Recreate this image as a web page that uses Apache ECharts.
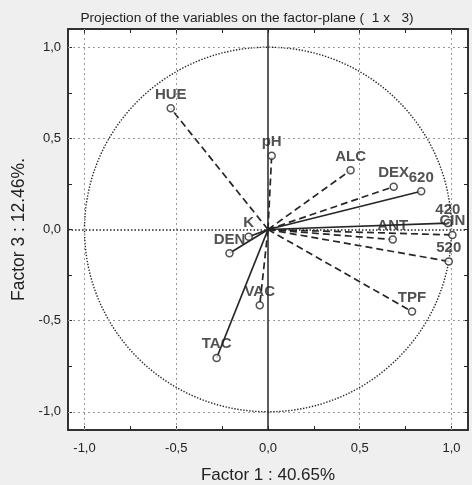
<!DOCTYPE html>
<html>
<head>
<meta charset="utf-8">
<script src="https://cdn.jsdelivr.net/npm/echarts@6/dist/echarts.min.js"></script>
<style>
  html, body { margin: 0; padding: 0; background: #efefef; }
  #chart { width: 472px; height: 485px; }
</style>
</head>
<body>
<div id="chart"></div>
<script>
// Variable loadings on factor 1 (horizontal) and factor 3 (vertical)
const variables = ['HUE', 'pH', 'ALC', 'DEX', '620', '420', 'CIN', 'ANT', '520', 'TPF', 'VAC', 'TAC', 'DEN', 'K'];
const factor1 = [-0.53, 0.02, 0.45, 0.685, 0.835, 0.98, 1.005, 0.68, 0.985, 0.785, -0.045, -0.28, -0.21, -0.105];
const factor3 = [0.665, 0.405, 0.325, 0.235, 0.21, 0.035, -0.03, -0.055, -0.175, -0.45, -0.415, -0.705, -0.13, -0.04];

// Axis tick labels
const axisLabelValues = [-1, -0.5, 0, 0.5, 1];
const axisTickValues = [-1, -0.75, -0.5, -0.25, 0, 0.25, 0.5, 0.75, 1];
const gridValues = [-1, -0.5, 0.5, 1];

// Vectors drawn with a continuous stroke (the rest are dashed)
const solidVectors = ['620', '420', 'TAC', 'DEN', 'K'];

const ink = '#262626';
const fmt = v => v.toFixed(1).replace('.', ',');

function axisCommon(extra) {
  return Object.assign({
    type: 'value',
    axisLine: { show: true, onZero: false, lineStyle: { color: ink, width: 1.5 } },
    axisTick: { show: true, inside: true, length: 4, customValues: axisTickValues, lineStyle: { color: ink, width: 1 } },
    splitLine: { show: false },
    axisLabel: { show: false }
  }, extra);
}

const vectorSeries = variables.map((name, i) => ({
  type: 'line',
  name: name,
  data: [[0, 0], [factor1[i], factor3[i]]],
  showSymbol: false,
  symbol: 'none',
  silent: true,
  z: 4,
  lineStyle: {
    color: ink,
    width: 1.7,
    type: solidVectors.includes(name) ? 'solid' : [7, 4]
  }
}));

const chart = echarts.init(document.getElementById('chart'), null, { renderer: 'canvas' });

chart.setOption({
  animation: false,
  backgroundColor: '#efefef',
  title: {
    text: 'Projection of the variables on the factor-plane (  1 x   3)',
    left: 242,
    textAlign: 'center',
    top: 6,
    textStyle: { fontFamily: 'Liberation Sans', fontSize: 13.7, fontWeight: 'normal', color: '#1e1e1e' }
  },
  grid: {
    left: 68, top: 29, width: 400, height: 401,
    outerBoundsMode: 'none',
    containLabel: false,
    show: true, backgroundColor: '#ffffff', borderColor: ink, borderWidth: 1.5
  },
  xAxis: [
    axisCommon({
      position: 'bottom', min: -1.09, max: 1.09,
      name: 'Factor 1 : 40.65%', nameLocation: 'middle', nameGap: 37,
      nameTextStyle: { fontFamily: 'Liberation Sans', fontSize: 17, color: '#222' },
      axisLabel: {
        show: true, customValues: axisLabelValues, formatter: fmt, margin: 12,
        fontFamily: 'Liberation Sans', fontSize: 13, color: '#222'
      }
    }),
    axisCommon({ position: 'top', min: -1.09, max: 1.09 })
  ],
  yAxis: [
    axisCommon({
      position: 'left', min: -1.1, max: 1.1,
      name: 'Factor 3 : 12.46%.', nameLocation: 'middle', nameGap: 40,
      nameTextStyle: { fontFamily: 'Liberation Sans', fontSize: 17.5, color: '#222' },
      axisLabel: {
        show: true, customValues: axisLabelValues, formatter: fmt, margin: 7,
        fontFamily: 'Liberation Sans', fontSize: 13, color: '#222'
      }
    }),
    axisCommon({ position: 'right', min: -1.1, max: 1.1 })
  ],
  series: [
    // reference lines: grid at ±0.5, ±1 and the two factor axes through the origin
    {
      type: 'line',
      data: [],
      silent: true,
      z: 1,
      markLine: {
        silent: true,
        symbol: 'none',
        label: { show: false },
        lineStyle: { color: '#9a9a9a', width: 1, type: [2, 3] },
        data: gridValues.map(v => ({ xAxis: v }))
          .concat(gridValues.map(v => ({ yAxis: v })))
          .concat([
            { xAxis: 0, lineStyle: { color: ink, width: 1.5, type: 'solid' } },
            { yAxis: 0, lineStyle: { color: ink, width: 1.5, type: [1.5, 2] } }
          ])
      }
    },
    // unit correlation circle
    {
      type: 'custom',
      silent: true,
      z: 2,
      data: [[0, 0]],
      renderItem: function (params, api) {
        const c = api.coord([0, 0]);
        const rx = api.size([1, 0])[0];
        const ry = api.size([0, 1])[1];
        return {
          type: 'ellipse',
          shape: { cx: c[0], cy: c[1], rx: rx, ry: ry },
          style: { fill: null, stroke: ink, lineWidth: 1.4, lineDash: [1.4, 1.6] }
        };
      }
    }
  ].concat(vectorSeries).concat([
    {
      type: 'scatter',
      data: variables.map((name, i) => ({ name: name, value: [factor1[i], factor3[i]] })),
      symbol: 'circle',
      symbolSize: 7,
      z: 5,
      itemStyle: { color: '#ffffff', borderColor: ink, borderWidth: 1.5 },
      label: {
        show: true,
        position: 'top',
        distance: 2,
        formatter: p => p.name,
        fontFamily: 'Liberation Sans',
        fontWeight: 'bold',
        fontSize: 15,
        color: '#262626'
      }
    }
  ])
});
</script>
</body>
</html>
